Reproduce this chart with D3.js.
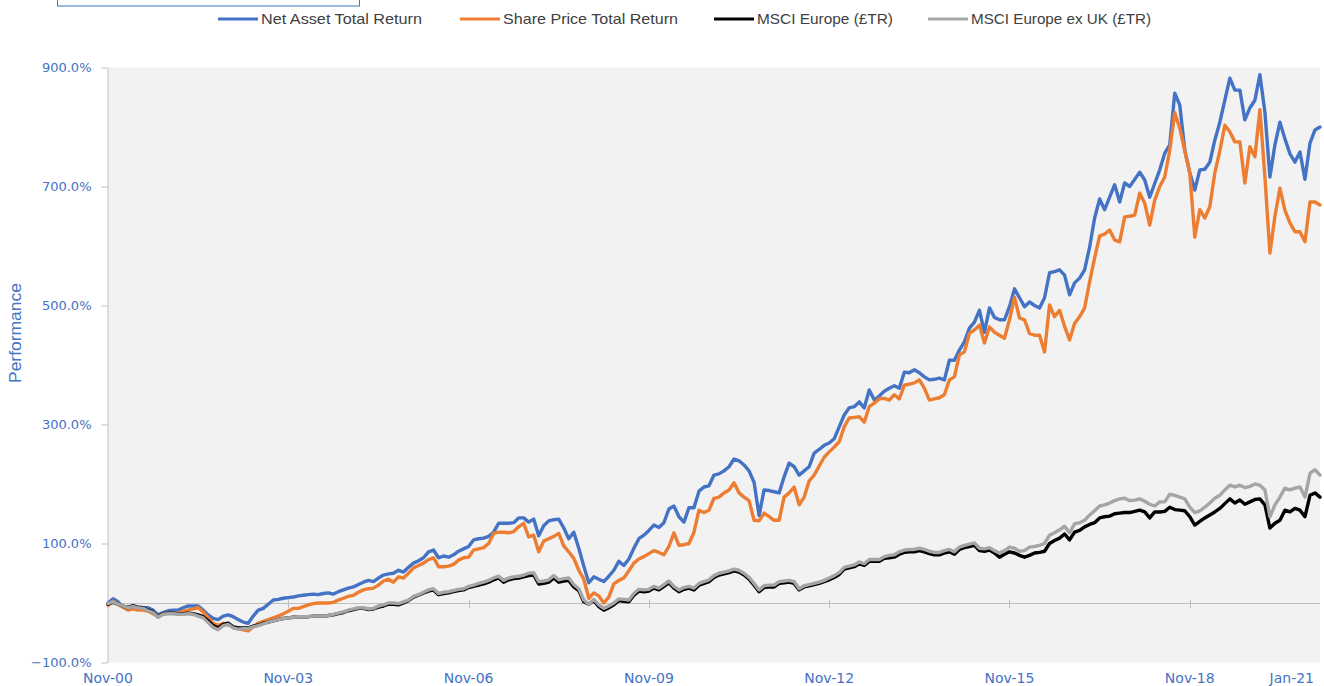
<!DOCTYPE html>
<html>
<head>
<meta charset="utf-8">
<script src="https://cdn.jsdelivr.net/npm/d3@7"></script>
<style>
  body { margin: 0; background: #fff; }
  svg { display: block; }
</style>
</head>
<body>
<svg id="chart" width="1324" height="686"></svg>
<script>
// Monthly cumulative performance (%), Nov-00 .. Jan-21, one row per year starting in November
const navTotalReturn = [
  0, 7, 2, -7, -6, -5, -7, -8, -8, -12, -20, -16,
  -13, -12, -12, -8, -5, -5, -5, -12, -20, -26, -28, -22,
  -20, -23, -28, -32, -34, -22, -12, -9, -2, 5, 6, 8,
  9, 10, 12, 13, 14, 15, 14, 16, 17, 15, 19, 22,
  25, 27, 31, 35, 38, 36, 42, 47, 49, 50, 55, 52,
  60, 67, 71, 76, 86, 89, 76, 79, 77, 81, 87, 91,
  95, 106, 108, 109, 112, 119, 134, 134, 134, 135, 143, 143,
  136, 141, 113, 130, 138, 140, 141, 126, 108, 119, 92, 62,
  34, 44, 40, 36, 45, 55, 70, 63, 74, 92, 108, 114,
  122, 131, 127, 135, 158, 163, 145, 136, 160, 160, 188, 195,
  197, 215, 217, 222, 229, 242, 239, 232, 222, 203, 147, 190,
  189, 187, 185, 212, 235, 229, 215, 222, 229, 252, 258, 265,
  269, 276, 296, 316, 328, 330, 338, 328, 358, 341, 348, 356,
  361, 365, 361, 388, 387, 392, 387, 380, 375, 376, 378, 375,
  408, 408, 425, 439, 462, 472, 492, 455, 496, 480, 476, 476,
  498, 528, 513, 498, 506, 500, 496, 513, 555, 557, 560, 551,
  518, 538, 546, 560, 598, 647, 679, 661, 682, 703, 674, 706,
  700, 712, 724, 711, 682, 705, 728, 756, 770, 857, 837, 761,
  723, 694, 728, 729, 741, 778, 808, 845, 882, 862, 862, 812,
  832, 845, 888, 825, 716, 770, 808, 780, 755, 741, 758, 712,
  773, 795, 800
]

const sharePriceTotalReturn = [
  -4, 3, -2, -7, -12, -10, -12, -12, -14, -18, -23, -18,
  -17, -17, -17, -14, -12, -10, -8, -15, -25, -34, -38, -34,
  -37, -40, -43, -45, -47, -40, -34, -31, -28, -25, -22, -18,
  -14, -9, -9, -6, -3, -1, 0, 0, 0, 1, 5, 8,
  11, 13, 18, 22, 24, 25, 30, 37, 40, 35, 44, 42,
  50, 59, 63, 67, 73, 76, 61, 61, 62, 65, 72, 76,
  77, 89, 91, 93, 100, 117, 119, 119, 118, 120, 128, 134,
  111, 114, 86, 104, 108, 112, 117, 96, 86, 75, 55, 40,
  8, 17, 12, 0, 10, 32, 38, 42, 54, 67, 74, 78,
  83, 88, 85, 81, 95, 118, 97, 98, 100, 119, 156, 152,
  156, 176, 178, 185, 190, 202, 185, 178, 172, 139, 138, 151,
  145, 139, 139, 178, 185, 195, 165, 178, 205, 215, 230, 245,
  254, 262, 271, 296, 311, 312, 313, 304, 330, 336, 343, 344,
  341, 350, 343, 366, 368, 370, 375, 361, 341, 343, 345, 350,
  375, 380, 417, 422, 453, 459, 467, 437, 464, 455, 450, 445,
  476, 514, 479, 476, 453, 450, 450, 422, 501, 481, 492, 465,
  442, 470, 481, 496, 540, 580, 617, 620, 627, 610, 607, 649,
  650, 652, 689, 672, 635, 677, 700, 716, 761, 824, 798, 760,
  723, 615, 661, 647, 666, 723, 760, 803, 792, 775, 775, 706,
  767, 750, 829, 716, 588, 650, 697, 660, 639, 624, 624, 607,
  674, 674, 669
]

const msciEurope = [
  -2, 1, -2, -5, -8, -5, -7, -8, -12, -15, -23, -18,
  -17, -17, -18, -18, -17, -18, -20, -23, -30, -38, -42, -36,
  -34, -40, -42, -42, -42, -39, -37, -34, -32, -30, -28, -26,
  -25, -24, -23, -23, -23, -22, -22, -22, -21, -20, -18, -16,
  -13, -11, -9, -9, -11, -10, -7, -5, -2, -2, -3, 0,
  4, 10, 13, 17, 20, 22, 14, 16, 17, 19, 21, 22,
  26, 28, 30, 32, 35, 39, 42, 35, 39, 41, 42, 44,
  46, 47, 32, 33, 35, 42, 35, 37, 38, 27, 21, 2,
  -2, 4, -6, -12, -8, -3, 4, 3, 2, 13, 20, 19,
  20, 25, 22, 28, 34, 25, 19, 23, 25, 22, 30, 33,
  36, 43, 47, 49, 51, 54, 52, 47, 40, 30, 19, 26,
  27, 27, 33, 34, 35, 33, 22, 27, 29, 31, 33, 36,
  39, 43, 48, 57, 59, 61, 66, 63, 70, 70, 70, 75,
  76, 77, 82, 85, 86, 86, 88, 86, 83, 81, 81, 84,
  86, 82, 90, 93, 95, 97, 88, 87, 89, 84, 77, 82,
  86, 84, 80, 77, 80, 84, 85, 87, 100, 105, 109, 116,
  106, 119, 122, 128, 132, 135, 143, 145, 146, 150, 151, 152,
  152, 154, 156, 153, 143, 153, 153, 154, 161, 157, 156, 155,
  145, 131, 137, 143, 148, 153, 159, 167, 175, 168, 173, 166,
  170, 174, 175, 165, 126, 134, 139, 156, 153, 159, 156, 145,
  181, 185, 178
]

const msciEuropeExUk = [
  -1, 2, -2, -5, -8, -6, -8, -9, -13, -16, -24, -19,
  -18, -18, -19, -19, -18, -19, -22, -25, -33, -41, -45, -38,
  -36, -42, -44, -43, -43, -40, -38, -35, -32, -30, -28, -26,
  -25, -24, -23, -23, -23, -22, -22, -22, -21, -19, -17, -15,
  -12, -10, -8, -8, -10, -9, -5, -3, 0, 0, -1, 2,
  5, 11, 14, 18, 22, 24, 16, 18, 19, 21, 23, 24,
  28, 30, 33, 35, 38, 42, 45, 38, 42, 44, 45, 47,
  50, 51, 36, 37, 39, 46, 39, 41, 42, 31, 24, 5,
  -2, 6, -3, -9, -5, 0, 7, 6, 5, 16, 23, 22,
  23, 28, 25, 31, 37, 28, 22, 26, 28, 25, 33, 36,
  39, 46, 50, 52, 54, 57, 55, 50, 43, 33, 22, 29,
  30, 30, 36, 37, 38, 36, 24, 29, 31, 33, 35, 38,
  42, 46, 51, 60, 62, 64, 69, 66, 73, 73, 73, 78,
  80, 81, 86, 89, 90, 90, 92, 90, 87, 85, 85, 88,
  90, 86, 94, 97, 99, 101, 92, 91, 93, 88, 84, 88,
  94, 92, 87, 88, 94, 95, 97, 100, 114, 118, 123, 129,
  118, 133, 135, 139, 148, 155, 163, 165, 168, 172, 175, 176,
  172, 173, 175, 171, 166, 163, 170, 170, 183, 181, 178, 175,
  161, 152, 155, 161, 168, 176, 181, 190, 198, 195, 198, 194,
  196, 200, 198, 190, 145, 165, 178, 193, 190, 193, 195, 178,
  218, 224, 215
]

const seriesNames = ['Net Asset Total Return', 'Share Price Total Return', 'MSCI Europe (£TR)', 'MSCI Europe ex UK (£TR)']
const seriesColors = ['#4472C4', '#ED7D31', '#000000', '#A5A5A5']
const yTicks = [-100, 100, 300, 500, 700, 900]
const xTickLabels = ['Nov-00', 'Nov-03', 'Nov-06', 'Nov-09', 'Nov-12', 'Nov-15', 'Nov-18', 'Jan-21']

// one label per month, Nov-00 .. Jan-21
const months = d3.timeMonth.range(new Date(2000, 10, 1), new Date(2021, 1, 1)).map(d3.timeFormat('%b-%y'))
const series = [navTotalReturn, sharePriceTotalReturn, msciEurope, msciEuropeExUk]

const blueText = '#4472C4'
const svg = d3.select('#chart')

const x = d3.scaleLinear().domain([0, months.length - 1]).range([108, 1320])
const y = d3.scaleLinear().domain([-100, 900]).range([662.5, 67.5])

// plot area
svg.append('rect')
  .attr('x', 108).attr('y', y(900))
  .attr('width', 1320 - 108).attr('height', y(-100) - y(900))
  .attr('fill', '#F2F2F2')

// y axis
const yAxis = svg.append('g')
  .attr('transform', 'translate(107.5,0)')
  .call(d3.axisLeft(y).tickValues(yTicks).tickSize(6).tickSizeOuter(0).tickPadding(10)
    .tickFormat(d => d3.format('.1f')(d) + '%'))
yAxis.select('.domain').attr('stroke', '#BFBFBF')
yAxis.selectAll('.tick line').attr('stroke', '#BFBFBF')
yAxis.selectAll('.tick text')
  .attr('fill', blueText)
  .style('font-family', 'DejaVu Sans, Verdana, sans-serif')
  .style('font-size', '13px')

// horizontal axis line at zero, with tick marks every three years
const y0 = Math.round(y(0)) + 0.5
svg.append('line')
  .attr('x1', 108).attr('x2', 1320)
  .attr('y1', y0).attr('y2', y0)
  .attr('stroke', '#BFBFBF').attr('stroke-width', 1)

const tickIdx = xTickLabels.map(l => months.indexOf(l))
svg.append('g').selectAll('line')
  .data(tickIdx.slice(1, -1))
  .join('line')
  .attr('x1', d => Math.round(x(d)) + 0.5).attr('x2', d => Math.round(x(d)) + 0.5)
  .attr('y1', y0 - 4).attr('y2', y0 + 5)
  .attr('stroke', '#BFBFBF')

svg.append('g').selectAll('text')
  .data(xTickLabels)
  .join('text')
  .attr('x', (d, i) => i === xTickLabels.length - 1 ? x(tickIdx[i]) - 6 : x(tickIdx[i]))
  .attr('y', 683)
  .attr('text-anchor', (d, i) => i === xTickLabels.length - 1 ? 'end' : 'middle')
  .attr('fill', blueText)
  .style('font-family', 'DejaVu Sans, Verdana, sans-serif')
  .style('font-size', '14px')
  .text(d => d)

// lines, drawn in series order so the ex-UK index sits on top
const line = d3.line()
  .x((d, i) => x(i))
  .y(d => y(d))

svg.append('g').selectAll('path')
  .data(series)
  .join('path')
  .attr('d', line)
  .attr('fill', 'none')
  .attr('stroke', (d, i) => seriesColors[i])
  .attr('stroke-width', 3.4)
  .attr('stroke-linejoin', 'round')
  .attr('stroke-linecap', 'round')

// y axis title
svg.append('text')
  .attr('transform', 'translate(21,333) rotate(-90)')
  .attr('text-anchor', 'middle')
  .attr('fill', blueText)
  .attr('textLength', 100)
  .attr('lengthAdjust', 'spacingAndGlyphs')
  .style('font-family', 'Liberation Sans, Arial, sans-serif')
  .style('font-size', '17px')
  .text('Performance')

// legend
const legendX = [218, 460, 714, 928]
const legendW = [161, 175, 136, 180]
const legend = svg.append('g').selectAll('g')
  .data(seriesNames)
  .join('g')
  .attr('transform', (d, i) => `translate(${legendX[i]},19)`)
legend.append('line')
  .attr('x1', 0).attr('x2', 40)
  .attr('stroke', (d, i) => seriesColors[i])
  .attr('stroke-width', 3)
legend.append('text')
  .attr('x', 43).attr('y', 5)
  .attr('fill', '#404040')
  .attr('textLength', (d, i) => legendW[i])
  .attr('lengthAdjust', 'spacingAndGlyphs')
  .style('font-family', 'Liberation Sans Narrow, Arial Narrow, sans-serif')
  .style('font-size', '15px')
  .text(d => d)

// partially visible selection box at the top edge
svg.append('rect')
  .attr('x', 57.5).attr('y', -20)
  .attr('width', 302).attr('height', 26)
  .attr('fill', 'none')
  .attr('stroke', '#4472C4')
  .attr('stroke-width', 1)
</script>
</body>
</html>
